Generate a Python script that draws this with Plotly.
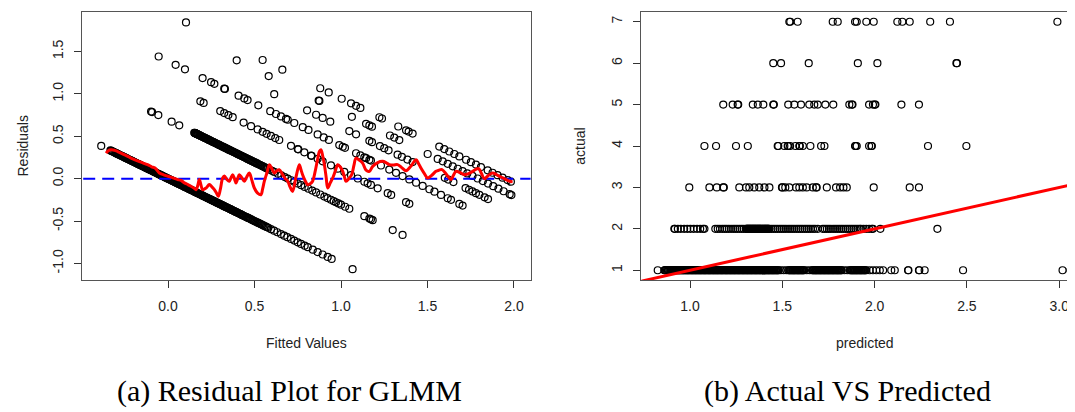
import numpy as np
import plotly.graph_objects as go

# ---------------- Panel (a): residuals vs fitted (GLMM, log link) ----------------
# fitted values (linear predictor) grouped by observed count (actual = 1..7)
fit_act1 = [-0.386, -0.333, -0.329, -0.325, -0.320, -0.316, -0.310, -0.305, -0.301, -0.297, -0.292,
            -0.288, -0.283, -0.279, -0.273, -0.268, -0.263, -0.259, -0.254, -0.250, -0.245, -0.241,
            -0.236, -0.232, -0.226, -0.221, -0.216, -0.212, -0.207, -0.203, -0.197, -0.192, -0.187,
            -0.183, -0.178, -0.174, -0.169, -0.165, -0.159, -0.154, -0.149, -0.145, -0.140, -0.136,
            -0.130, -0.125, -0.120, -0.116, -0.111, -0.107, -0.102, -0.098, -0.092, -0.087, -0.082,
            -0.078, -0.073, -0.069, -0.063, -0.058, -0.053, -0.049, -0.044, -0.040, -0.035, -0.031,
            -0.025, -0.020, -0.015, -0.011, -0.006, -0.002, 0.003, 0.007, 0.012, 0.018, 0.022, 0.027,
            0.031, 0.036, 0.041, 0.047, 0.051, 0.056, 0.060, 0.065, 0.069, 0.074, 0.079, 0.085, 0.089,
            0.094, 0.098, 0.103, 0.108, 0.114, 0.118, 0.123, 0.127, 0.132, 0.136, 0.141, 0.146, 0.152,
            0.156, 0.161, 0.165, 0.170, 0.175, 0.181, 0.185, 0.190, 0.194, 0.199, 0.203, 0.208, 0.213,
            0.219, 0.223, 0.228, 0.232, 0.237, 0.242, 0.248, 0.252, 0.257, 0.261, 0.266, 0.270, 0.275,
            0.280, 0.286, 0.290, 0.295, 0.299, 0.304, 0.309, 0.315, 0.319, 0.324, 0.328, 0.333, 0.337,
            0.342, 0.347, 0.353, 0.357, 0.362, 0.366, 0.371, 0.376, 0.382, 0.386, 0.391, 0.395, 0.400,
            0.405, 0.411, 0.415, 0.420, 0.424, 0.429, 0.434, 0.440, 0.446, 0.452, 0.457, 0.463, 0.468,
            0.474, 0.481, 0.488, 0.493, 0.499, 0.505, 0.512, 0.518, 0.524, 0.530, 0.537, 0.544, 0.551,
            0.558, 0.566, 0.573, 0.580, 0.595, 0.613, 0.632, 0.653, 0.672, 0.690, 0.711, 0.730, 0.750,
            0.769, 0.790, 0.808, 0.837, 0.865, 0.894, 0.923, 0.946, 1.067]
fit_act2 = [-0.098, -0.092, -0.056, 0.021, 0.065, 0.152, 0.154, 0.156, 0.158, 0.160, 0.163, 0.166,
            0.169, 0.172, 0.176, 0.180, 0.184, 0.188, 0.192, 0.196, 0.200, 0.205, 0.210, 0.214, 0.219,
            0.224, 0.229, 0.234, 0.239, 0.244, 0.250, 0.255, 0.260, 0.266, 0.271, 0.277, 0.282, 0.288,
            0.293, 0.299, 0.305, 0.311, 0.316, 0.322, 0.328, 0.334, 0.339, 0.345, 0.351, 0.357, 0.362,
            0.368, 0.374, 0.380, 0.386, 0.392, 0.398, 0.404, 0.409, 0.415, 0.421, 0.427, 0.433, 0.439,
            0.445, 0.451, 0.457, 0.463, 0.469, 0.475, 0.481, 0.487, 0.493, 0.499, 0.505, 0.511, 0.517,
            0.523, 0.530, 0.536, 0.542, 0.549, 0.556, 0.562, 0.569, 0.575, 0.588, 0.601, 0.614, 0.635,
            0.655, 0.675, 0.692, 0.712, 0.730, 0.750, 0.770, 0.790, 0.812, 0.834, 0.856, 0.880, 0.904,
            0.922, 0.942, 0.958, 0.971, 0.985, 1.000, 1.024, 1.048, 1.135, 1.164, 1.173, 1.183, 1.299,
            1.356]
fit_act3 = [0.187, 0.206, 0.302, 0.325, 0.349, 0.374, 0.437, 0.480, 0.518, 0.547, 0.570, 0.595,
            0.620, 0.643, 0.711, 0.750, 0.753, 0.788, 0.827, 0.830, 0.865, 0.894, 0.942, 0.981, 1.019,
            1.058, 1.097, 1.135, 1.154, 1.173, 1.212, 1.270, 1.290, 1.376, 1.395]
fit_act4 = [-0.054, 0.044, 0.098, 0.200, 0.249, 0.268, 0.325, 0.329, 0.408, 0.441, 0.460, 0.522,
            0.591, 0.624, 0.653, 0.682, 0.692, 0.730, 0.779, 0.812, 0.865, 0.900, 0.930, 0.990, 1.010,
            1.023, 1.087, 1.112, 1.135, 1.145, 1.164, 1.173, 1.231, 1.279, 1.318, 1.356, 1.395, 1.434,
            1.472, 1.511, 1.540, 1.578, 1.617, 1.636, 1.684, 1.703]
fit_act5 = [0.614, 0.804, 0.856, 0.894, 0.938, 1.048, 1.087, 1.164, 1.179, 1.225, 1.250, 1.275,
            1.327, 1.352, 1.384, 1.414, 1.600, 1.620, 1.650, 1.720, 1.740, 1.760, 1.780, 1.800, 1.830,
            1.850]
fit_act6 = [0.397, 0.582, 0.871, 0.875, 1.063, 1.145, 1.164, 1.179, 1.283, 1.308, 1.337, 1.501,
            1.559, 1.588, 1.617, 1.646, 1.675, 1.703, 1.730, 1.760, 1.790, 1.820, 1.850, 1.880, 1.910,
            1.940, 1.975, 1.985]
fit_act7 = [0.104, 0.547, 0.661, 0.880, 0.929, 1.004, 1.058, 1.087, 1.112, 1.222, 1.237, 1.331,
            1.376, 1.391, 1.414, 1.568, 1.597, 1.626, 1.655, 1.684, 1.723, 1.751, 1.780, 1.809, 1.848,
            1.876, 1.905, 1.934, 1.963, 1.982]
fitted_by_actual = [fit_act1, fit_act2, fit_act3, fit_act4, fit_act5, fit_act6, fit_act7]

# smoother through the residuals
smooth_x = [-0.358, -0.345, -0.329, -0.310, -0.291, -0.250, -0.214, -0.165, -0.118, -0.095, -0.075,
            -0.050, -0.025, 0.0, 0.028, 0.056, 0.075, 0.095, 0.115, 0.133, 0.150, 0.162, 0.172, 0.181,
            0.190, 0.200, 0.220, 0.239, 0.255, 0.268, 0.280, 0.291, 0.303, 0.316, 0.326, 0.340, 0.354,
            0.364, 0.374, 0.384, 0.393, 0.403, 0.412, 0.427, 0.441, 0.455, 0.470, 0.485, 0.499, 0.518,
            0.537, 0.547, 0.557, 0.572, 0.586, 0.600, 0.614, 0.628, 0.643, 0.663, 0.678, 0.692, 0.706,
            0.720, 0.740, 0.759, 0.768, 0.778, 0.792, 0.807, 0.822, 0.836, 0.850, 0.865, 0.875, 0.884,
            0.894, 0.904, 0.914, 0.923, 0.938, 0.952, 0.967, 0.981, 0.995, 1.010, 1.020, 1.029, 1.045,
            1.062, 1.075, 1.087, 1.105, 1.125, 1.145, 1.164, 1.183, 1.212, 1.241, 1.260, 1.279, 1.303,
            1.327, 1.351, 1.376, 1.405, 1.434, 1.448, 1.462, 1.482, 1.501, 1.525, 1.549, 1.566, 1.584,
            1.610, 1.636, 1.650, 1.665, 1.689, 1.713, 1.737, 1.761, 1.779, 1.796, 1.812, 1.829, 1.853,
            1.877, 1.896, 1.915, 1.944, 1.973, 1.992]
smooth_y = [0.302, 0.330, 0.340, 0.335, 0.320, 0.280, 0.243, 0.200, 0.165, 0.140, 0.125,
            0.067, 0.045, 0.028, 0.010, -0.011, -0.020, -0.050, -0.070, -0.090, -0.110, -0.130, -0.080,
            -0.011, -0.070, -0.130, -0.110, -0.070, -0.100, -0.130, -0.170, -0.208, -0.120, 0.008, 0.030,
            -0.010, -0.030, 0.010, 0.047, 0.000, -0.050, 0.000, 0.047, 0.010, -0.030, 0.020, 0.067, -0.020,
            -0.110, -0.170, -0.190, -0.120, -0.030, 0.070, 0.165, 0.120, 0.067, 0.090, 0.106, 0.047, 0.000,
            -0.030, -0.100, -0.150, 0.020, 0.165, 0.110, 0.047, -0.020, -0.070, -0.060, -0.030, 0.080,
            0.230, 0.320, 0.341, 0.270, 0.165, 0.020, -0.110, -0.050, 0.008, 0.090, 0.165, 0.140, 0.086,
            0.020, -0.030, 0.000, 0.047, 0.160, 0.243, 0.220, 0.184, 0.100, 0.086, 0.145, 0.190, 0.204,
            0.190, 0.165, 0.160, 0.165, 0.130, 0.094, 0.150, 0.224, 0.180, 0.125, 0.060, 0.008, 0.040,
            0.086, 0.100, 0.106, 0.050, -0.011, 0.040, 0.086, 0.070, 0.047, 0.060, 0.086, 0.110, 0.118,
            0.060, 0.000, 0.040, 0.067, 0.050, 0.028, 0.000, -0.030, -0.038]

# ---------------- Panel (b): actual vs predicted ----------------
pred_act1 = [0.825, 0.861, 0.864, 0.866, 0.870, 0.875, 0.880, 0.884, 0.889, 0.893, 0.897, 0.900,
             0.903, 0.906, 0.910, 0.914, 0.918, 0.921, 0.925, 0.929, 0.933, 0.937, 0.941, 0.944, 0.948,
             0.952, 0.956, 0.960, 0.963, 0.967, 0.971, 0.975, 0.979, 0.983, 0.987, 0.990, 0.994, 0.998,
             1.002, 1.006, 1.010, 1.013, 1.017, 1.021, 1.025, 1.029, 1.032, 1.036, 1.040, 1.044, 1.048,
             1.052, 1.056, 1.059, 1.063, 1.067, 1.071, 1.075, 1.079, 1.082, 1.086, 1.090, 1.094, 1.098,
             1.102, 1.105, 1.109, 1.113, 1.117, 1.121, 1.125, 1.128, 1.132, 1.136, 1.140, 1.144, 1.148,
             1.151, 1.155, 1.159, 1.163, 1.167, 1.171, 1.174, 1.178, 1.182, 1.186, 1.190, 1.194, 1.197,
             1.201, 1.205, 1.209, 1.213, 1.217, 1.220, 1.224, 1.228, 1.232, 1.236, 1.240, 1.243, 1.247,
             1.251, 1.255, 1.259, 1.263, 1.266, 1.270, 1.274, 1.278, 1.282, 1.286, 1.289, 1.293, 1.297,
             1.301, 1.305, 1.309, 1.312, 1.316, 1.320, 1.324, 1.328, 1.332, 1.335, 1.339, 1.343, 1.347,
             1.351, 1.355, 1.358, 1.362, 1.366, 1.370, 1.374, 1.378, 1.381, 1.385, 1.389, 1.393, 1.397,
             1.401, 1.404, 1.408, 1.412, 1.416, 1.420, 1.424, 1.427, 1.431, 1.435, 1.439, 1.443, 1.447,
             1.450, 1.454, 1.458, 1.462, 1.466, 1.470, 1.473, 1.477, 1.481, 1.492, 1.507, 1.522, 1.533,
             1.537, 1.541, 1.545, 1.549, 1.553, 1.557, 1.561, 1.564, 1.568, 1.572, 1.576, 1.580, 1.584,
             1.587, 1.591, 1.595, 1.599, 1.603, 1.607, 1.610, 1.614, 1.618, 1.632, 1.648, 1.661, 1.665,
             1.669, 1.673, 1.677, 1.681, 1.684, 1.688, 1.692, 1.696, 1.700, 1.704, 1.707, 1.711, 1.715,
             1.719, 1.723, 1.727, 1.730, 1.734, 1.738, 1.742, 1.746, 1.750, 1.753, 1.757, 1.761, 1.765,
             1.769, 1.773, 1.776, 1.780, 1.784, 1.788, 1.792, 1.796, 1.799, 1.803, 1.807, 1.811, 1.815,
             1.819, 1.822, 1.836, 1.852, 1.866, 1.870, 1.874, 1.878, 1.881, 1.885, 1.889, 1.893, 1.897,
             1.901, 1.904, 1.908, 1.912, 1.916, 1.920, 1.924, 1.927, 1.931, 1.935, 1.939, 1.943, 1.947,
             1.950, 1.955, 1.973, 1.991, 2.009, 2.028, 2.046, 2.090, 2.109, 2.181, 2.183, 2.240, 2.242,
             2.271, 2.479, 3.018, 3.061]
pred_act2 = [0.915, 0.918, 0.934, 0.950, 0.968, 0.985, 1.002, 1.020, 1.038, 1.055, 1.070, 1.078,
             1.137, 1.150, 1.162, 1.175, 1.187, 1.198, 1.210, 1.222, 1.234, 1.245, 1.256, 1.268, 1.280,
             1.291, 1.303, 1.306, 1.309, 1.312, 1.315, 1.318, 1.321, 1.324, 1.327, 1.330, 1.333, 1.336,
             1.339, 1.342, 1.345, 1.348, 1.351, 1.354, 1.357, 1.360, 1.363, 1.366, 1.369, 1.372, 1.375,
             1.378, 1.381, 1.384, 1.387, 1.390, 1.393, 1.396, 1.399, 1.402, 1.405, 1.408, 1.411, 1.414,
             1.417, 1.420, 1.423, 1.426, 1.430, 1.441, 1.452, 1.463, 1.474, 1.486, 1.497, 1.508, 1.519,
             1.531, 1.542, 1.553, 1.564, 1.576, 1.587, 1.598, 1.609, 1.621, 1.632, 1.643, 1.654, 1.666,
             1.677, 1.692, 1.719, 1.730, 1.741, 1.752, 1.763, 1.775, 1.786, 1.797, 1.808, 1.819, 1.830,
             1.842, 1.853, 1.864, 1.875, 1.886, 1.897, 1.908, 1.919, 1.926, 1.940, 1.955, 1.970, 1.985,
             1.991, 2.031, 2.340]
pred_act3 = [0.996, 1.105, 1.145, 1.180, 1.183, 1.267, 1.303, 1.321, 1.348, 1.375, 1.403, 1.430,
             1.498, 1.501, 1.516, 1.538, 1.574, 1.592, 1.611, 1.632, 1.665, 1.683, 1.686, 1.741, 1.791,
             1.813, 1.831, 1.849, 1.995, 2.190, 2.240]
pred_act4 = [1.078, 1.141, 1.249, 1.313, 1.475, 1.478, 1.511, 1.529, 1.532, 1.542, 1.571, 1.592,
             1.595, 1.611, 1.652, 1.710, 1.728, 1.894, 1.897, 1.903, 1.970, 1.982, 1.985, 2.289, 2.497]
pred_act5 = [1.180, 1.231, 1.258, 1.261, 1.340, 1.367, 1.397, 1.451, 1.454, 1.532, 1.565, 1.601,
             1.646, 1.673, 1.692, 1.733, 1.776, 1.863, 1.877, 1.880, 1.970, 1.991, 2.001, 2.004, 2.145,
             2.240]
pred_act6 = [1.451, 1.493, 1.643, 1.909, 2.015, 2.443, 2.446]
pred_act7 = [1.538, 1.543, 1.583, 1.773, 1.800, 1.894, 1.903, 1.955, 1.995, 2.123, 2.150, 2.190,
             2.301, 2.408, 2.990]
predicted_by_actual = [pred_act1, pred_act2, pred_act3, pred_act4, pred_act5, pred_act6, pred_act7]
actual_levels = [1, 2, 3, 4, 5, 6, 7]

# ticks
a_xticks = [0.0, 0.5, 1.0, 1.5, 2.0]
a_xlabels = ["0.0", "0.5", "1.0", "1.5", "2.0"]
a_yticks = [-1.0, -0.5, 0.0, 0.5, 1.0, 1.5]
a_ylabels = ["-1.0", "-0.5", "0.0", "0.5", "1.0", "1.5"]
b_xticks = [1.0, 1.5, 2.0, 2.5, 3.0]
b_xlabels = ["1.0", "1.5", "2.0", "2.5", "3.0"]
b_yticks = [1, 2, 3, 4, 5, 6, 7]
b_ylabels = ["1", "2", "3", "4", "5", "6", "7"]

# ---------------- build ----------------
res_x, res_y = [], []
for k, fv in zip(actual_levels, fitted_by_actual):
    for f in fv:
        res_x.append(f)
        res_y.append(float(np.log(k) - f))

pb_x, pb_y = [], []
for k, pv in zip(actual_levels, predicted_by_actual):
    for p in pv:
        pb_x.append(p)
        pb_y.append(k)

W, H = 1075, 412
marker = dict(symbol="circle-open", size=7, color="black", line=dict(width=1.2, color="black"))

fig = go.Figure()
fig.add_trace(go.Scatter(x=res_x, y=res_y, mode="markers", marker=marker,
                         xaxis="x", yaxis="y", showlegend=False))
fig.add_trace(go.Scatter(x=[-0.6, 2.2], y=[0, 0], mode="lines",
                         line=dict(color="#0000ff", width=2, dash="12px,7px"),
                         xaxis="x", yaxis="y", showlegend=False))
fig.add_trace(go.Scatter(x=smooth_x, y=smooth_y, mode="lines",
                         line=dict(color="#ff0000", width=3, shape="spline", smoothing=1.0),
                         xaxis="x", yaxis="y", showlegend=False))

fig.add_trace(go.Scatter(x=pb_x, y=pb_y, mode="markers", marker=marker,
                         xaxis="x2", yaxis="y2", showlegend=False))
fig.add_trace(go.Scatter(x=[0.0, 4.0], y=[0.0, 4.0], mode="lines",
                         line=dict(color="#ff0000", width=3),
                         xaxis="x2", yaxis="y2", showlegend=False))

tickfont = dict(family="Liberation Sans, Arial, sans-serif", size=14, color="#222")
common = dict(showgrid=False, zeroline=False, showline=True, linecolor="#555", linewidth=1,
              ticks="outside", ticklen=7, tickwidth=1, tickcolor="#333", tickfont=tickfont,
              tickmode="array")
ydom = [(H - 272.2) / H, (H - 3.8) / H]

fig.update_layout(
    width=W, height=H, margin=dict(l=0, r=0, t=0, b=0),
    paper_bgcolor="white", plot_bgcolor="white",
    xaxis=dict(domain=[74.2 / W, 522.6 / W], range=[-0.496, 2.096], mirror=True,
               tickvals=a_xticks, ticktext=a_xlabels, anchor="y", ticklabelstandoff=6, **common),
    yaxis=dict(domain=ydom, range=[-1.197, 1.967], mirror=True, tickangle=-90,
               tickvals=a_yticks, ticktext=a_ylabels, anchor="x", ticklabelstandoff=6, **common),
    xaxis2=dict(domain=[633.3 / W, 1.0], range=[0.736, 0.736 + (W - 633.3) / 184.6], mirror=True,
                tickvals=b_xticks, ticktext=b_xlabels, anchor="y2", ticklabelstandoff=6, **common),
    yaxis2=dict(domain=ydom, range=[0.76, 7.24], mirror=False, tickangle=-90,
                tickvals=b_yticks, ticktext=b_ylabels, anchor="x2", ticklabelstandoff=6, **common),
)

lab = dict(family="Liberation Sans, Arial, sans-serif", size=14, color="#222")
cap = dict(family="Liberation Serif, Times New Roman, serif", size=30, color="black")
ann = [
    dict(text="Fitted Values", x=298.5 / W, y=(H - 335) / H, font=lab, textangle=0),
    dict(text="Residuals", x=14.5 / W, y=(H - 138) / H, font=lab, textangle=-90),
    dict(text="predicted", x=857 / W, y=(H - 335) / H, font=lab, textangle=0),
    dict(text="actual", x=571.7 / W, y=(H - 138) / H, font=lab, textangle=-90),
    dict(text="(a) Residual Plot for GLMM", x=281 / W, y=(H - 383) / H, font=cap, textangle=0),
    dict(text="(b) Actual VS Predicted", x=839 / W, y=(H - 383) / H, font=cap, textangle=0),
]
for a in ann:
    fig.add_annotation(xref="paper", yref="paper", showarrow=False,
                       xanchor="center", yanchor="middle", **a)

fig.write_html("out.html")
